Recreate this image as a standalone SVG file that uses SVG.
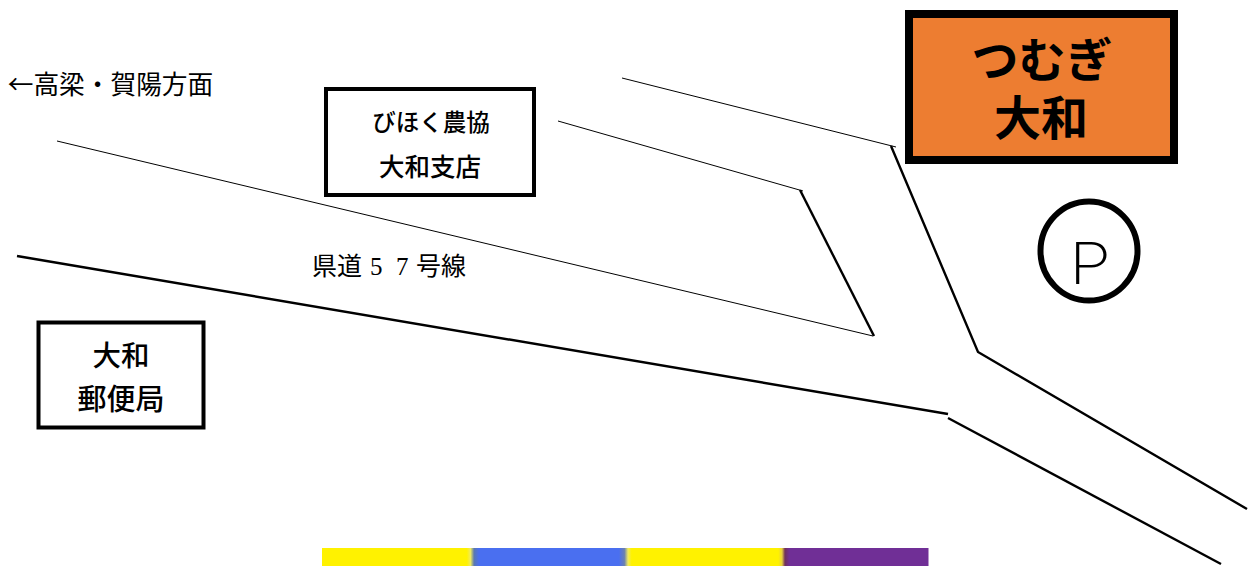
<svg xmlns="http://www.w3.org/2000/svg" width="1254" height="566" viewBox="0 0 1254 566">
<defs>
<linearGradient id="bar" x1="322" x2="928" y1="0" y2="0" gradientUnits="userSpaceOnUse">
<stop offset="0" stop-color="#fff200"/>
<stop offset="0.2390" stop-color="#fff200"/>
<stop offset="0.2450" stop-color="#f0ea60"/>
<stop offset="0.2510" stop-color="#5a78b0"/>
<stop offset="0.2590" stop-color="#4a6ff0"/>
<stop offset="0.4900" stop-color="#4a6ff0"/>
<stop offset="0.4990" stop-color="#6a80b0"/>
<stop offset="0.5050" stop-color="#f0ea60"/>
<stop offset="0.5110" stop-color="#fff200"/>
<stop offset="0.7530" stop-color="#fff200"/>
<stop offset="0.7590" stop-color="#e8d040"/>
<stop offset="0.7640" stop-color="#70305a"/>
<stop offset="0.7710" stop-color="#702f96"/>
<stop offset="1" stop-color="#702f96"/>
</linearGradient>
</defs>
<style>
text{font-family:"Noto Sans CJK JP","Noto Sans CJK SC",sans-serif;fill:#000;text-anchor:middle}
.box{fill:#fff;stroke:#000;stroke-width:4}
.lab{font-weight:500}
.thin{fill:none;stroke:#000;stroke-width:1}
.mid{fill:none;stroke:#000;stroke-width:2.400}
</style>
<rect width="1254" height="566" fill="#fff"/>
<g id="connectors">
<path class="thin" d="M622 78L896 147"/>
<path class="mid" d="M891 146L978 352L1247 509"/>
<path class="thin" d="M558 121L803 191"/>
<path class="mid" d="M800 190L874 336"/>
<path class="thin" d="M57 141L873 336"/>
<path class="mid" d="M17 256L948 414"/>
<path class="mid" d="M948 418L1221 564"/>
</g>
<g id="label-direction"><text x="110.500" y="94" font-size="25.700">←高梁・賀陽方面</text></g>
<g id="label-road"><text y="275" font-size="25" style="font-family:'Liberation Serif','Noto Sans CJK JP',serif;text-anchor:start"><tspan x="312">県道</tspan><tspan x="370">5</tspan><tspan x="396">7</tspan><tspan x="416">号線</tspan></text></g>
<g id="node-jabank">
<rect class="box" x="326" y="89" width="208" height="106"/>
<text class="lab" x="431" y="131" font-size="23.500">びほく農協</text>
<text class="lab" x="430" y="176" font-size="25.500">大和支店</text>
</g>
<g id="node-post">
<rect class="box" x="38.500" y="322.500" width="165" height="105"/>
<text class="lab" x="121" y="366" font-size="28.500">大和</text>
<text class="lab" x="121" y="410" font-size="29">郵便局</text>
</g>
<g id="node-tsumugi">
<rect x="909" y="14" width="265" height="146" fill="#ed7d31" stroke="#000" stroke-width="8"/>
<text font-size="47" font-weight="700"><tspan x="1042" y="77">つむぎ</tspan><tspan x="1041" y="135">大和</tspan></text>
</g>
<g id="node-parking">
<ellipse cx="1089" cy="251" rx="48.500" ry="49.500" fill="#fff" stroke="#000" stroke-width="6"/>
<text x="1069" y="284" font-size="57" font-weight="200" textLength="42" lengthAdjust="spacingAndGlyphs" style="font-family:Inter,'Noto Sans',sans-serif;text-anchor:start">P</text>
</g>
<rect id="color-bar" x="322" y="548" width="606.500" height="18" fill="url(#bar)"/>
</svg>
